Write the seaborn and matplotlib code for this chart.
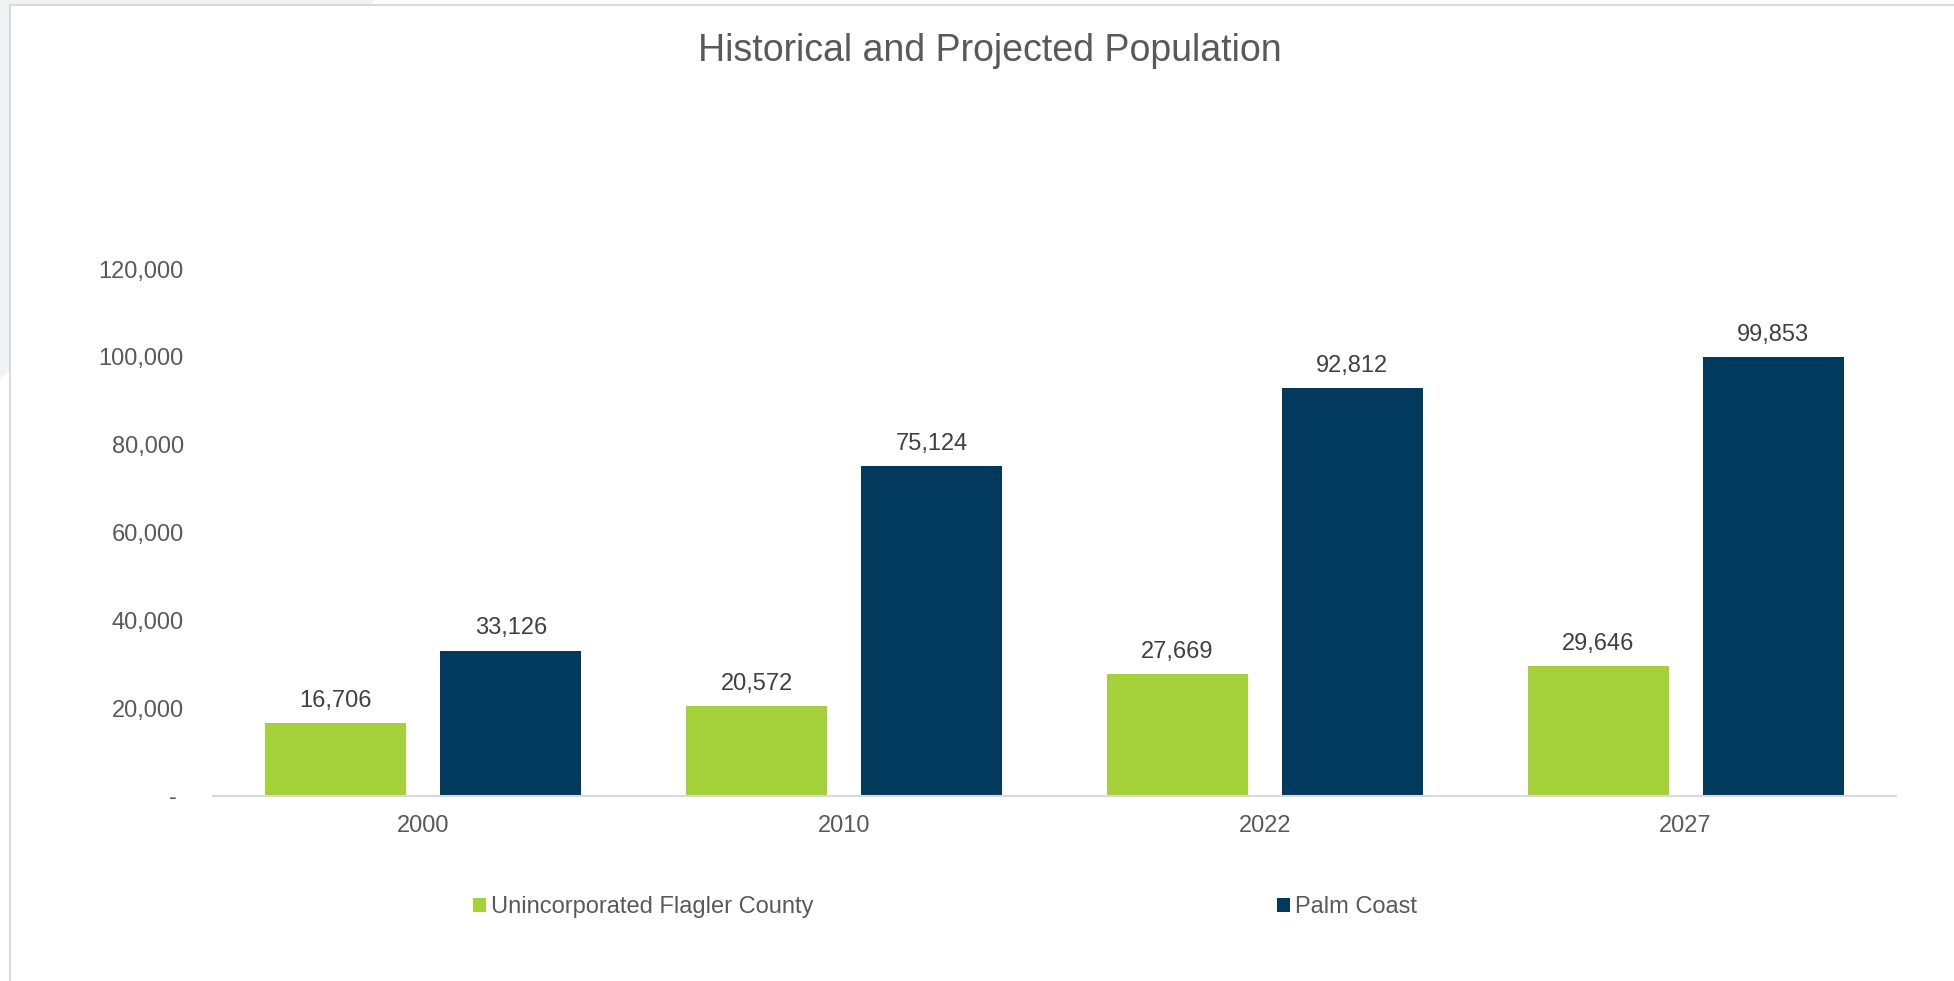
import matplotlib
matplotlib.use("Agg")
import matplotlib.pyplot as plt
from matplotlib.patches import Polygon, Patch
from matplotlib.lines import Line2D
import seaborn as sns
import pandas as pd

# --- data -------------------------------------------------------------
years = ["2000", "2010", "2022", "2027"]
series = ["Unincorporated Flagler County", "Palm Coast"]
unincorporated = [16706, 20572, 27669, 29646]
palm_coast = [33126, 75124, 92812, 99853]
y_ticks = [0, 20000, 40000, 60000, 80000, 100000, 120000]
title = "Historical and Projected Population"

colors = ["#A4D03A", "#023A5D"]
text_grey = "#595959"
label_grey = "#404040"
line_grey = "#D9D9D9"

df = pd.DataFrame({
    "year": years * 2,
    "series": [series[0]] * len(years) + [series[1]] * len(years),
    "population": unincorporated + palm_coast,
})

sns.set_style("white")
plt.rcParams["font.family"] = ["Liberation Sans", "DejaVu Sans"]

W, H, DPI = 1954, 981, 100
fig = plt.figure(figsize=(W / DPI, H / DPI), dpi=DPI)
fig.patch.set_facecolor("white")

# light backdrop in the top-left corner and the chart frame
fig.add_artist(Polygon(
    [(0, H), (375, H), (370, H - 5), (10, H - 5), (10, H - 370), (0, H - 380)],
    closed=True, transform=None, facecolor="#F1F2F4", edgecolor="none", zorder=0))
fig.add_artist(Line2D([10 / W, 1], [1 - 5 / H, 1 - 5 / H], transform=fig.transFigure,
                      color=line_grey, lw=1.5, zorder=1))
fig.add_artist(Line2D([10 / W, 10 / W], [0, 1 - 5 / H], transform=fig.transFigure,
                      color=line_grey, lw=1.5, zorder=1))

ax_left, ax_right = 213 / W, 1896 / W
ax_bottom, ax_top = 1 - 796 / H, 1 - 269 / H
ax = fig.add_axes([ax_left, ax_bottom, ax_right - ax_left, ax_top - ax_bottom])
ax.set_facecolor("none")

sns.barplot(data=df, x="year", y="population", hue="series",
            order=years, hue_order=series, palette=colors,
            width=0.832, gap=0.195, saturation=1, linewidth=0,
            legend=False, ax=ax)

for cont in ax.containers:
    ax.bar_label(cont, labels=[f"{v:,.0f}" for v in cont.datavalues],
                 padding=8, fontsize=17, color=label_grey)

ax.set_ylim(0, 120000)
ax.set_xlim(-0.5, len(years) - 0.5)
ax.set_yticks(y_ticks)
ax.set_yticklabels(["- " if v == 0 else f"{v:,}" for v in y_ticks])
ax.tick_params(axis="y", length=0, pad=21, labelsize=17, labelcolor=text_grey)
ax.tick_params(axis="x", which="major", length=0, pad=14, labelsize=17, labelcolor=text_grey)
ax.set_xticks([i - 0.5 for i in range(len(years) + 1)], minor=True)
ax.tick_params(axis="x", which="minor", length=5.5, width=1.2, color=line_grey)
ax.set_xlabel("")
ax.set_ylabel("")
for side in ["top", "right", "left"]:
    ax.spines[side].set_visible(False)
ax.spines["bottom"].set_color(line_grey)
ax.spines["bottom"].set_linewidth(1.5)
ax.grid(False)

fig.text(990 / W, 1 - 51 / H, title, ha="center", va="center",
         fontsize=27, color=text_grey)

# legend: one entry per series, spread across the bottom
legend_x = [473, 1277]
for name, col, lx in zip(series, colors, legend_x):
    fig.legend(handles=[Patch(facecolor=col, edgecolor="none")], labels=[name],
               loc="center left", bbox_to_anchor=(lx / W, 1 - 907 / H),
               frameon=False, fontsize=17, labelcolor=text_grey,
               handlelength=0.55, handleheight=0.55, handletextpad=0.2,
               borderpad=0, borderaxespad=0)

fig.savefig("out.png", dpi=DPI, facecolor="white")
